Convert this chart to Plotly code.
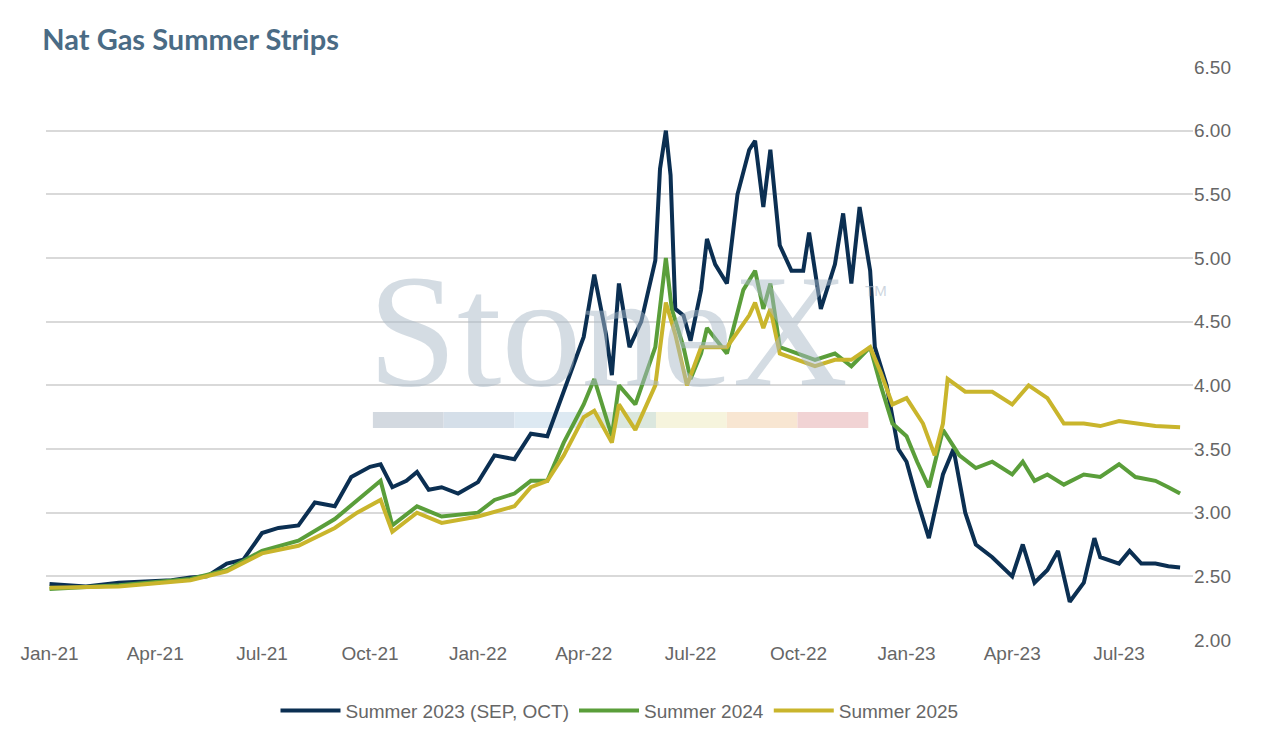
import plotly.graph_objects as go

# summer 2023 (SEP, OCT) strip
s23_dates = ["2021-01-01","2021-02-01","2021-03-01","2021-04-01","2021-04-15","2021-05-01","2021-05-15","2021-06-01","2021-06-15","2021-07-01","2021-07-15","2021-08-01","2021-08-15","2021-09-01","2021-09-15","2021-10-01","2021-10-10","2021-10-20","2021-11-01","2021-11-10","2021-11-20","2021-12-01","2021-12-15",
             "2022-01-01","2022-01-15","2022-02-01","2022-02-15","2022-03-01","2022-03-15","2022-04-01","2022-04-10","2022-04-20","2022-04-25","2022-05-01","2022-05-10","2022-05-20","2022-06-01","2022-06-05","2022-06-10","2022-06-14","2022-06-18","2022-06-25","2022-07-01","2022-07-10","2022-07-15","2022-07-22","2022-08-01","2022-08-10","2022-08-20","2022-08-25","2022-09-01","2022-09-07","2022-09-15","2022-09-25","2022-10-05","2022-10-10","2022-10-20","2022-10-28","2022-11-01","2022-11-08","2022-11-15","2022-11-22","2022-12-01","2022-12-05","2022-12-15","2022-12-25",
             "2023-01-01","2023-01-10","2023-01-20","2023-02-01","2023-02-10","2023-02-20","2023-03-01","2023-03-15","2023-04-01","2023-04-10","2023-04-20","2023-05-01","2023-05-10","2023-05-20","2023-06-01","2023-06-10","2023-06-15","2023-07-01","2023-07-10","2023-07-20","2023-08-01","2023-08-12","2023-08-22"]
s23_vals = [2.44,2.42,2.45,2.46,2.47,2.49,2.50,2.60,2.63,2.84,2.88,2.90,3.08,3.05,3.28,3.36,3.38,3.20,3.25,3.32,3.18,3.20,3.15,
            3.24,3.45,3.42,3.62,3.60,3.95,4.38,4.87,4.40,4.08,4.80,4.30,4.50,4.98,5.70,6.00,5.65,4.60,4.55,4.35,4.75,5.15,4.95,4.80,5.50,5.85,5.92,5.40,5.85,5.10,4.90,4.90,5.20,4.60,4.85,4.95,5.35,4.80,5.40,4.90,4.30,4.00,3.50,
            3.40,3.10,2.80,3.30,3.50,3.00,2.75,2.65,2.50,2.75,2.45,2.55,2.70,2.30,2.45,2.80,2.65,2.60,2.70,2.60,2.60,2.58,2.57]

# summer 2024 strip
s24_dates = ["2021-01-01","2021-03-01","2021-05-01","2021-06-01","2021-07-01","2021-08-01","2021-09-01","2021-09-20","2021-10-01","2021-10-10","2021-10-20","2021-11-10","2021-12-01",
             "2022-01-01","2022-01-15","2022-02-01","2022-02-15","2022-03-01","2022-03-15","2022-04-01","2022-04-10","2022-04-25","2022-05-01","2022-05-15","2022-06-01","2022-06-10","2022-06-15","2022-06-25","2022-07-01","2022-07-10","2022-07-15","2022-08-01","2022-08-15","2022-08-25","2022-09-01","2022-09-07","2022-09-15","2022-10-01","2022-10-15","2022-11-01","2022-11-15","2022-12-01","2022-12-10","2022-12-20",
             "2023-01-01","2023-01-10","2023-01-20","2023-02-01","2023-02-15","2023-03-01","2023-03-15","2023-04-01","2023-04-10","2023-04-20","2023-05-01","2023-05-15","2023-06-01","2023-06-15","2023-07-01","2023-07-15","2023-08-01","2023-08-12","2023-08-22"]
s24_vals = [2.40,2.43,2.48,2.55,2.70,2.78,2.95,3.10,3.18,3.25,2.90,3.05,2.97,
            3.00,3.10,3.15,3.25,3.25,3.55,3.85,4.05,3.60,4.00,3.85,4.30,5.00,4.60,4.30,4.05,4.25,4.45,4.25,4.75,4.90,4.60,4.80,4.30,4.25,4.20,4.25,4.15,4.30,4.00,3.70,
            3.60,3.40,3.20,3.65,3.45,3.35,3.40,3.30,3.40,3.25,3.30,3.22,3.30,3.28,3.38,3.28,3.25,3.20,3.15]

# summer 2025 strip
s25_dates = ["2021-01-01","2021-03-01","2021-05-01","2021-06-01","2021-07-01","2021-08-01","2021-09-01","2021-09-20","2021-10-10","2021-10-20","2021-11-10","2021-12-01",
             "2022-01-01","2022-02-01","2022-02-15","2022-03-01","2022-03-15","2022-04-01","2022-04-10","2022-04-25","2022-05-01","2022-05-15","2022-06-01","2022-06-10","2022-06-18","2022-06-28","2022-07-10","2022-08-01","2022-08-20","2022-08-25","2022-09-01","2022-09-07","2022-09-15","2022-10-15","2022-11-01","2022-11-15","2022-12-01","2022-12-10","2022-12-20",
             "2023-01-01","2023-01-15","2023-01-25","2023-02-01","2023-02-05","2023-02-20","2023-03-15","2023-04-01","2023-04-15","2023-05-01","2023-05-15","2023-06-01","2023-06-15","2023-07-01","2023-07-15","2023-08-01","2023-08-22"]
s25_vals = [2.41,2.42,2.47,2.54,2.68,2.74,2.88,3.00,3.10,2.85,3.00,2.92,
            2.97,3.05,3.20,3.25,3.45,3.75,3.80,3.55,3.85,3.65,4.00,4.65,4.40,4.00,4.30,4.30,4.55,4.65,4.45,4.60,4.25,4.15,4.20,4.20,4.30,4.10,3.85,
            3.90,3.70,3.45,3.70,4.05,3.95,3.95,3.85,4.00,3.90,3.70,3.70,3.68,3.72,3.70,3.68,3.67]

tick_vals = ["2021-01-01","2021-04-01","2021-07-01","2021-10-01","2022-01-01","2022-04-01","2022-07-01","2022-10-01","2023-01-01","2023-04-01","2023-07-01"]
tick_text = ["Jan-21","Apr-21","Jul-21","Oct-21","Jan-22","Apr-22","Jul-22","Oct-22","Jan-23","Apr-23","Jul-23"]

fig = go.Figure()
fig.add_trace(go.Scatter(x=s23_dates, y=s23_vals, mode="lines", name="Summer 2023 (SEP, OCT)",
                         line=dict(color="#0b2f52", width=4)))
fig.add_trace(go.Scatter(x=s24_dates, y=s24_vals, mode="lines", name="Summer 2024",
                         line=dict(color="#5a9e3a", width=4)))
fig.add_trace(go.Scatter(x=s25_dates, y=s25_vals, mode="lines", name="Summer 2025",
                         line=dict(color="#c9b52c", width=4)))

# StoneX watermark
fig.add_annotation(x=0.49, y=0.54, xref="paper", yref="paper", text="StoneX", showarrow=False,
                   font=dict(family="Liberation Serif, DejaVu Serif", size=160, color="rgba(170,185,200,0.5)"))
fig.add_annotation(x=0.735, y=0.61, xref="paper", yref="paper", text="TM", showarrow=False,
                   font=dict(family="Liberation Sans", size=15, color="rgba(170,185,200,0.6)"))
bar_cols = ["#d3d9e0", "#d5dfe9", "#dde9f2", "#dbe7de", "#f6f4dd", "#f8e6d2", "#f1d3d4"]
for i, c in enumerate(bar_cols):
    fig.add_shape(type="rect", xref="paper", yref="paper", layer="below", line_width=0, fillcolor=c,
                  x0=0.285 + i * 0.0617, x1=0.285 + (i + 1) * 0.0617, y0=0.370, y1=0.398)

fig.update_layout(
    width=1271, height=734,
    paper_bgcolor="white", plot_bgcolor="white",
    margin=dict(l=28, r=86, t=59, b=70),
    title=dict(text="<b>Nat Gas Summer Strips</b>", x=0.027, y=0.97,
               font=dict(family="Lato", size=29, color="#4a6b85")),
    font=dict(family="Liberation Sans Narrow, Liberation Sans", size=19, color="#666"),
    xaxis=dict(range=["2020-12-29", "2023-09-02"], tickvals=tick_vals, ticktext=tick_text,
               showgrid=False, showline=False, ticks=""),
    yaxis=dict(side="right", range=[2.0, 6.5], dtick=0.5, tickformat=".2f",
               gridcolor="#d9d9d9", gridwidth=2, zeroline=False),
    legend=dict(orientation="h", x=0.5, xanchor="center", y=-0.09, yanchor="top",
                font=dict(size=19), itemwidth=60, traceorder="normal"),
)

fig.write_html("out.html")
